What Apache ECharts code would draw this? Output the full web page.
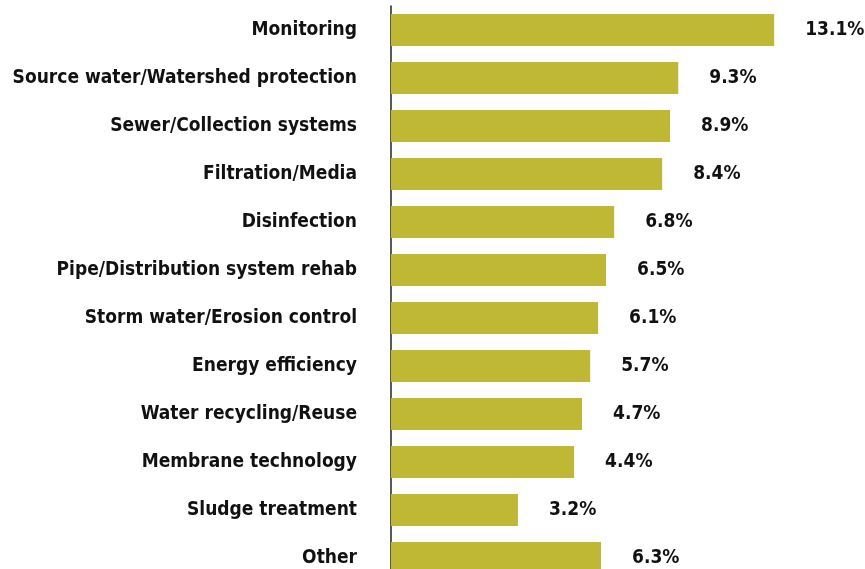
<!DOCTYPE html>
<html>
<head>
<meta charset="utf-8">
<script src="https://cdn.jsdelivr.net/npm/echarts@6/dist/echarts.min.js"></script>
<style>
  html, body { margin: 0; padding: 0; background: #fff; }
  #chart { width: 865px; height: 569px; }
</style>
</head>
<body>
<div id="chart"></div>
<script>
// categories, top to bottom
var categories = [
  'Monitoring',
  'Source water/Watershed protection',
  'Sewer/Collection systems',
  'Filtration/Media',
  'Disinfection',
  'Pipe/Distribution system rehab',
  'Storm water/Erosion control',
  'Energy efficiency',
  'Water recycling/Reuse',
  'Membrane technology',
  'Sludge treatment',
  'Other'
]
// printed shares (%)
var shares = [13.1, 9.3, 8.9, 8.4, 6.8, 6.5, 6.1, 5.7, 4.7, 4.4, 3.2, 6.3]
// bar lengths as drawn in the picture (same % scale as the top bar)
var barLengths = [13.1, 9.82, 9.54, 9.27, 7.63, 7.35, 7.08, 6.81, 6.53, 6.26, 4.34, 7.18]

var labelFont = '"Liberation Sans Narrow", "DejaVu Sans Condensed", "Roboto", sans-serif'

var chart = echarts.init(document.getElementById('chart'))
chart.setOption({
  animation: false,
  grid: {
    left: 391,
    top: 6,
    width: 468,
    height: 576,
    containLabel: false,
    outerBoundsMode: 'none'
  },
  xAxis: {
    type: 'value',
    min: 0,
    max: 16,
    show: false
  },
  yAxis: {
    type: 'category',
    inverse: true,
    data: categories,
    axisLine: {
      show: true,
      lineStyle: { color: '#222', width: 1.5 }
    },
    axisTick: { show: false },
    axisLabel: {
      margin: 34,
      color: '#111',
      fontFamily: labelFont,
      fontWeight: 'bold',
      fontSize: 19
    },
    splitLine: { show: false }
  },
  series: [{
    type: 'bar',
    data: barLengths,
    barCategoryGap: '33.3%',
    itemStyle: { color: '#bfb834' },
    label: {
      show: true,
      position: 'right',
      distance: 31,
      color: '#111',
      fontFamily: labelFont,
      fontWeight: 'bold',
      fontSize: 19,
      formatter: function (p) {
        return shares[p.dataIndex].toFixed(1) + '%'
      }
    }
  }]
})
</script>
</body>
</html>
